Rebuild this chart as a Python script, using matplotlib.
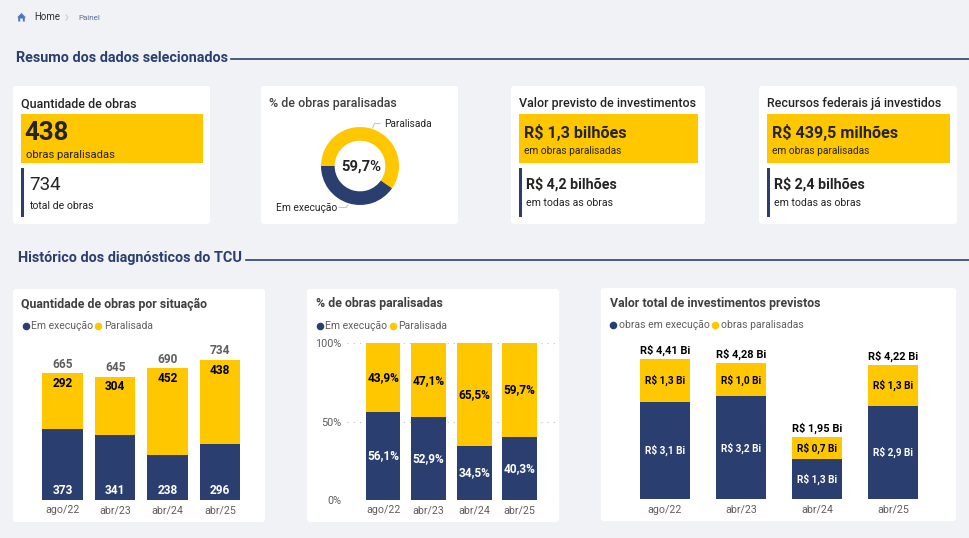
import matplotlib
matplotlib.use("Agg")
import matplotlib.pyplot as plt
from matplotlib.patches import FancyBboxPatch, Polygon, Rectangle

plt.rcParams["font.family"] = ["Roboto", "DejaVu Sans"]

months = ["ago/22", "abr/23", "abr/24", "abr/25"]
obras_execucao = [373, 341, 238, 296]
obras_paralisadas = [292, 304, 452, 438]
pct_execucao = [56.1, 52.9, 34.5, 40.3]
pct_paralisadas = [43.9, 47.1, 65.5, 59.7]
valor_execucao = [3.08, 3.24, 1.26, 2.94]
valor_paralisadas = [1.33, 1.04, 0.69, 1.28]
donut_values = [59.7, 40.3]

W, H = 969, 538
NAVY = "#2A3F6F"
YELLOW = "#FFC700"
BG = "#F0F2F6"
DARK = "#252423"
GREY = "#605E5C"


def comma(value, decimals):
    return f"{value:.{decimals}f}".replace(".", ",")


def px_axes(x0, y0, x1, y1):
    # axes placed with screen style pixel coordinates
    ax = fig.add_axes([x0 / W, 1 - y1 / H, (x1 - x0) / W, (y1 - y0) / H])
    ax.patch.set_alpha(0)
    for side in ax.spines.values():
        side.set_visible(False)
    return ax


def card(x0, y0, x1, y1):
    bg.add_patch(FancyBboxPatch((x0, y0), x1 - x0, y1 - y0, boxstyle="round,pad=0,rounding_size=3",
                                facecolor="white", edgecolor="none"))


def label(x, y, s, size, color=DARK, weight="normal", ha="left"):
    bg.text(x, y, s, fontsize=size, color=color, fontweight=weight, ha=ha, va="center")


def section(x, y, s, rule_x):
    label(x, y, s, 10.35, NAVY, "bold")
    bg.plot([rule_x, W], [y + 1.5, y + 1.5], color=NAVY, lw=1.2)


def kpi_card(x0, x1, title, big, big_sub, small, small_sub, big_size, small_size, small_bold, sub_y, big_x, inner_x):
    card(x0, 86, x1, 224)
    label(x0 + 8.5, 104, title, 9, DARK, "medium")
    bg.add_patch(Rectangle((x0 + 8, 114), x1 - x0 - 15, 48.5, facecolor=YELLOW, edgecolor="none"))
    bg.add_patch(Rectangle((x0 + 8.5, 167.5), 2.6, 49, facecolor=NAVY, edgecolor="none"))
    label(x0 + big_x, 132.5, big, big_size, DARK, "bold")
    label(x0 + 13, sub_y, big_sub, 8.1 if small_bold is False else 7.3)
    label(x0 + inner_x, 184.5, small, small_size, DARK, "bold" if small_bold else "normal")
    label(x0 + inner_x, sub_y + 51, small_sub, 7.6)


def legend(ax_items, y, size=7.5):
    for dot_x, text_x, s, color in ax_items:
        bg.scatter([dot_x], [y], s=30, color=color, linewidths=0)
        label(text_x, y, s, size, GREY)


def stacked(ax, lower, upper, width):
    ax.bar(range(4), lower, width, color=NAVY, zorder=2)
    ax.bar(range(4), upper, width, bottom=lower, color=YELLOW, zorder=2)
    ax.set_xticks(range(4), months, color=GREY, fontsize=7.7)
    ax.tick_params(length=0, pad=3.8)


fig = plt.figure(figsize=(W / 100, H / 100), dpi=100, facecolor=BG)
bg = fig.add_axes([0, 0, 1, 1])
bg.set_xlim(0, W)
bg.set_ylim(H, 0)
bg.axis("off")

# breadcrumb
bg.add_patch(Polygon([[17, 17.5], [21.5, 13], [26, 17.5], [24.8, 17.5], [24.8, 21.5], [22.8, 21.5], [22.8, 18.5],
                      [20.2, 18.5], [20.2, 21.5], [18.2, 21.5], [18.2, 17.5]], facecolor="#4A78BD", edgecolor="none"))
label(34.5, 17, "Home", 7, "#303030")
bg.plot([66, 68, 66], [15, 17.5, 20], color="#C8CCD4", lw=0.8)
label(78.5, 17.5, "Painel", 5.8, "#5A6E96")

section(16, 57.5, "Resumo dos dados selecionados", 231)
section(18.5, 258, "Histórico dos diagnósticos do TCU", 246)

kpi_card(13, 210, "Quantidade de obras", "438", "obras paralisadas", "734", "total de obras", 18.6, 13.5, False,
         155, 11.5, 16.5)
kpi_card(511, 705, "Valor previsto de investimentos", "R$ 1,3 bilhões", "em obras paralisadas",
         "R$ 4,2 bilhões", "em todas as obras", 11.6, 10.3, True, 151.5, 13, 15.5)
kpi_card(759, 957, "Recursos federais já investidos", "R$ 439,5 milhões", "em obras paralisadas",
         "R$ 2,4 bilhões", "em todas as obras", 11.6, 10.3, True, 151.5, 13, 15.5)

# donut card
card(261, 86, 458, 224)
label(269.5, 104, "% de obras paralisadas", 9, "#404040", "medium")
ax = px_axes(321, 127, 399, 205)
ax.pie(donut_values, colors=[YELLOW, NAVY], startangle=180, counterclock=False, radius=1,
       wedgeprops={"width": 0.35})
ax.set_xlim(-1, 1)
ax.set_ylim(-1, 1)
label(361.5, 167, comma(donut_values[0], 1) + "%", 10.6, DARK, "bold", "center")
bg.plot([372.5, 374.5, 380], [128, 123.5, 123.5], color="#C8C8C8", lw=0.8)
label(384.5, 124, "Paralisada", 7.3, DARK)
bg.plot([348, 346, 339], [205, 207.5, 207.5], color="#C8C8C8", lw=0.8)
label(276.5, 208, "Em execução", 7.4, DARK)

# chart cards
card(13, 289, 265, 522)
label(21.5, 304, "Quantidade de obras por situação", 8.9, "#404040", "bold")
legend([(26, 31, "Em execução", NAVY), (98.5, 104.5, "Paralisada", YELLOW)], 326)

card(307, 289, 559, 522)
label(316, 304, "% de obras paralisadas", 8.9, "#404040", "bold")
legend([(320, 325, "Em execução", NAVY), (393, 398.5, "Paralisada", YELLOW)], 326)

card(601, 288, 956, 521)
label(610, 303, "Valor total de investimentos previstos", 8.9, "#404040", "bold")
legend([(613.5, 619, "obras em execução", NAVY), (715.5, 721, "obras paralisadas", YELLOW)], 325)

# quantity of works
ax = px_axes(36.45, 340, 246.45, 500)
stacked(ax, obras_execucao, obras_paralisadas, 0.77)
ax.set_xlim(-0.5, 3.5)
ax.set_ylim(0, 160 / (140 / 734))
ax.set_yticks([])
for i in range(4):
    total = obras_execucao[i] + obras_paralisadas[i]
    ax.annotate(str(total), (i, total), xytext=(0, 6.5), textcoords="offset points", ha="center", va="center",
                fontsize=8.6, color=GREY, fontweight="bold")
    ax.annotate(str(obras_paralisadas[i]), (i, total), xytext=(0, -7.2), textcoords="offset points", ha="center",
                va="center", fontsize=8.6, color="black", fontweight="bold")
    ax.annotate(str(obras_execucao[i]), (i, 0), xytext=(0, 7.2), textcoords="offset points", ha="center",
                va="center", fontsize=8.6, color="white", fontweight="bold")

# share of stopped works
ax = px_axes(346.7, 343.3, 556.7, 500)
stacked(ax, pct_execucao, pct_paralisadas, 0.76)
ax.set_xlim(-0.8, 3.81)
ax.set_ylim(0, 100)
ax.set_yticks([0, 50, 100], ["0%", "50%", "100%"], color=GREY, fontsize=7.8)
ax.grid(axis="y", color="#C8C8C8", linestyle=(0, (1, 4)), lw=0.9, zorder=0)
for i in range(4):
    ax.text(i, pct_execucao[i] / 2, comma(pct_execucao[i], 1) + "%", ha="center", va="center", fontsize=8.6,
            color="white", fontweight="bold")
    ax.text(i, pct_execucao[i] + pct_paralisadas[i] / 2, comma(pct_paralisadas[i], 1) + "%", ha="center",
            va="center", fontsize=8.6, color="black", fontweight="bold")

# planned investment
ax = px_axes(627, 340, 931, 499.3)
stacked(ax, valor_execucao, valor_paralisadas, 0.66)
ax.set_xlim(-0.5, 3.5)
ax.set_ylim(0, 159.3 / 31.75)
ax.set_yticks([])
for i in range(4):
    total = valor_execucao[i] + valor_paralisadas[i]
    ax.annotate(f"R$ {comma(total, 2)} Bi", (i, total), xytext=(0, 6.5), textcoords="offset points", ha="center",
                va="center", fontsize=7.9, color="black", fontweight="bold")
    ax.text(i, valor_execucao[i] + valor_paralisadas[i] / 2, f"R$ {comma(valor_paralisadas[i], 1)} Bi", ha="center",
            va="center", fontsize=7.2, color="black", fontweight="bold")
    ax.text(i, valor_execucao[i] / 2, f"R$ {comma(valor_execucao[i], 1)} Bi", ha="center", va="center", fontsize=7.2,
            color="white", fontweight="bold")

fig.savefig("out.png", dpi=100, facecolor=BG)
plt.close()
